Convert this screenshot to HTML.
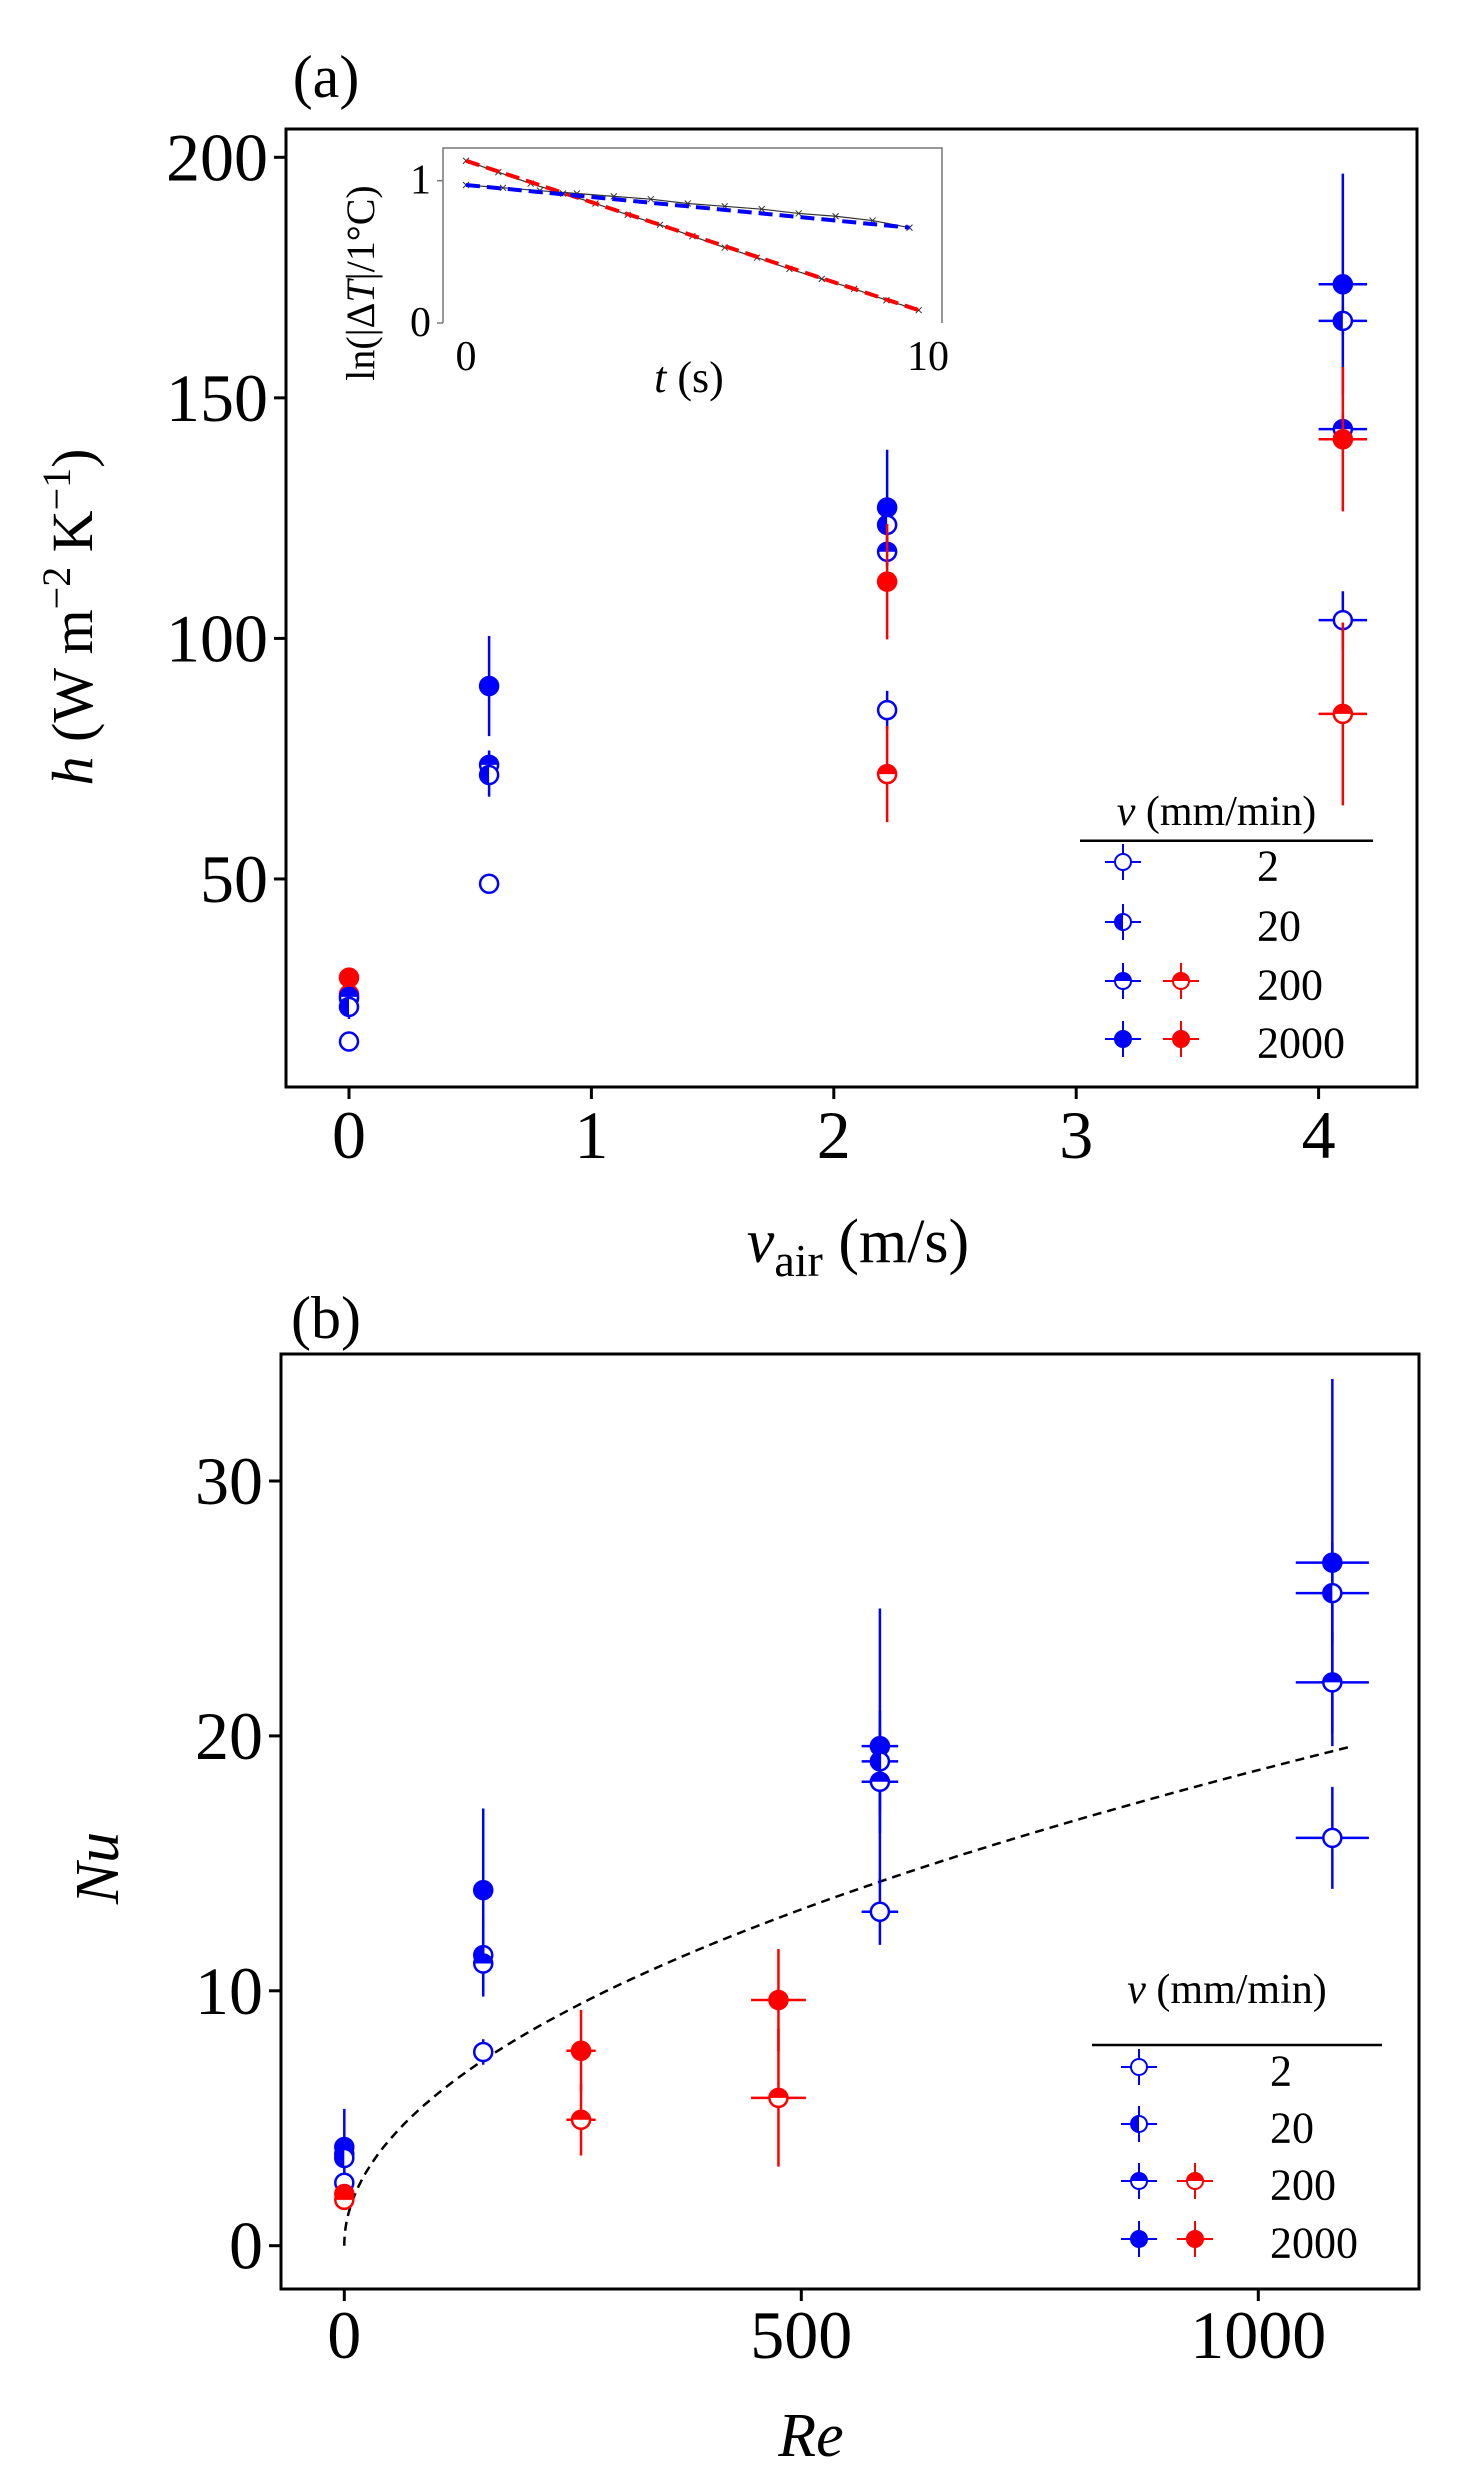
<!DOCTYPE html>
<html><head><meta charset="utf-8"><title>h and Nu vs air velocity and Re</title>
<style>
html,body{margin:0;padding:0;background:#fff;}
svg{display:block;font-family:"Liberation Serif",serif;}
</style></head>
<body>
<svg id="fig" width="1462" height="2491" viewBox="0 0 1462 2491" xmlns="http://www.w3.org/2000/svg">
<g id="panelA"></g>
<g id="panelB"></g>
</svg>
<script>
// ---------- Panel (a) data ----------
const aX     = [0, 0, 0, 0, 0, 0, 0.578, 0.578, 0.578, 0.578, 2.22, 2.22, 2.22, 2.22, 2.22, 2.22, 4.10, 4.10, 4.10, 4.10, 4.10, 4.10];
const aH     = [29.5, 26.0, 25.2, 25.5, 23.4, 16.2, 90.1, 73.7, 71.6, 49.0, 127.2, 123.6, 118.0, 111.8, 85.1, 71.8, 173.6, 166.0, 143.5, 141.4, 103.8, 84.3];
const aHErr  = [1, 1, 1, 1, 2.5, 1, 10.4, 3, 4.5, 1, 12, 3, 3, 12, 4, 10, 23, 3, 3, 15, 6, 19];
const aXErr  = [0.04, 0.04, 0.04, 0.04, 0.04, 0.04, 0.04, 0.04, 0.04, 0.04, 0.04, 0.04, 0.04, 0.04, 0.04, 0.04, 0.1, 0.1, 0.1, 0.1, 0.1, 0.1];
const aColor = ["red","red","blue","blue","blue","blue","blue","blue","blue","blue","blue","blue","blue","red","blue","red","blue","blue","blue","red","blue","red"];
const aType  = ["2000","200","2000","200","20","2","2000","200","20","2","2000","20","200","2000","2","200","2000","20","200","2000","2","200"];
const aXTicks = [0, 1, 2, 3, 4];
const aYTicks = [50, 100, 150, 200];
// inset data
const insRedT = [0,0.7,1.4,2.1,2.8,3.5,4.2,4.9,5.6,6.3,7.0,7.7,8.4,9.1,9.8];
const insRedV = [1.14,1.06,0.98,0.91,0.84,0.76,0.69,0.61,0.53,0.46,0.38,0.31,0.24,0.16,0.09];
const insBlueT = [0,0.8,1.6,2.4,3.2,4.0,4.8,5.6,6.4,7.2,8.0,8.8,9.6];
const insBlueV = [0.97,0.95,0.93,0.91,0.89,0.87,0.84,0.82,0.80,0.77,0.75,0.72,0.67];
const insXTicks = [0, 10];
const insYTicks = [0, 1];
// ---------- Panel (b) data ----------
const bRe    = [0, 0, 0, 0, 0, 0, 152, 152, 152, 152, 259, 259, 475, 475, 586, 586, 586, 586, 1081, 1081, 1081, 1081];
const bNu    = [3.87, 3.6, 3.44, 2.47, 2.03, 1.8, 13.95, 11.4, 11.07, 7.6, 7.65, 4.94, 9.64, 5.8, 19.6, 19.0, 18.2, 13.1, 26.8, 25.6, 22.1, 16.0];
const bNuErr = [1.5, 0.3, 0.3, 0.3, 0.3, 0.3, 3.2, 1.5, 1.3, 0.5, 1.6, 1.4, 2.0, 2.7, 5.4, 2, 2, 1.3, 7.2, 2, 2, 2];
const bReErr = [5, 5, 5, 5, 5, 5, 10, 10, 10, 10, 16, 16, 30, 30, 20, 20, 20, 20, 40, 40, 40, 40];
const bColor = ["blue","blue","blue","blue","red","red","blue","blue","blue","blue","red","red","red","red","blue","blue","blue","blue","blue","blue","blue","blue"];
const bType  = ["2000","200","20","2","2000","200","2000","20","200","2","2000","200","2000","200","2000","20","200","2","2000","20","200","2"];
const bXTicks = [0, 500, 1000];
const bYTicks = [0, 10, 20, 30];
const fitCoef = 0.59, fitExp = 0.5, fitReMax = 1100;
const legendLabels = ["2", "20", "200", "2000"];

const NS = "http://www.w3.org/2000/svg";
function mk(tag, attrs, parent){ const e=document.createElementNS(NS,tag); for(const k in attrs) e.setAttribute(k,attrs[k]); if(parent) parent.appendChild(e); return e; }
function txt(parent, x, y, s, size, anchor, extra){ const t=mk("text",Object.assign({x:x,y:y,"font-size":size,"text-anchor":anchor||"middle","dominant-baseline":"central",fill:"#000"},extra||{}),parent); t.textContent=s; return t; }

function marker(g, cx, cy, r, col, type, sw){
  if(type==="2"){ mk("circle",{cx:cx,cy:cy,r:r,fill:"#fff",stroke:col,"stroke-width":sw},g); }
  else if(type==="2000"){ mk("circle",{cx:cx,cy:cy,r:r,fill:col,stroke:col,"stroke-width":sw},g); }
  else if(type==="20"){ mk("circle",{cx:cx,cy:cy,r:r,fill:"#fff",stroke:col,"stroke-width":sw},g);
    mk("path",{d:`M${cx},${cy-r} A${r},${r} 0 0 0 ${cx},${cy+r} Z`,fill:col},g); }
  else { mk("circle",{cx:cx,cy:cy,r:r,fill:"#fff",stroke:col,"stroke-width":sw},g);
    mk("path",{d:`M${cx-r},${cy} A${r},${r} 0 0 1 ${cx+r},${cy} Z`,fill:col},g); }
}

// ================= PANEL A =================
(function(){
  const g=document.getElementById("panelA");
  const L=286,T=129,R=1417,B=1087;
  const xs=v=>349+v*242.4, ys=v=>157.3+(200-v)*4.811;
  const lab=txt(g,326,77,"(a)",60);
  
  
  const fr=mk("rect",{x:L,y:T,width:R-L,height:B-T,fill:"none",stroke:"#000","stroke-width":3},g);
  
  
  aXTicks.forEach(v=>{
    mk("line",{x1:xs(v),x2:xs(v),y1:B,y2:B+12,stroke:"#000","stroke-width":3},g);
    const t=txt(g,xs(v),1135,String(v),68);
    
    
  });
  aYTicks.forEach(v=>{
    mk("line",{x1:L-12,x2:L,y1:ys(v),y2:ys(v),stroke:"#000","stroke-width":3},g);
    const t=txt(g,L-18,ys(v),String(v),68,"end");
    
    
  });
  const xt=mk("text",{x:858,y:1262,"font-size":62,"text-anchor":"middle"},g);
  xt.innerHTML='<tspan font-style="italic">v</tspan><tspan font-size="46" dy="14">air</tspan><tspan dy="-14"> (m/s)</tspan>';
  
  
  const yt=mk("text",{x:0,y:0,"font-size":58,"text-anchor":"middle",transform:"translate(92,617) rotate(-90)"},g);
  yt.innerHTML='<tspan font-style="italic">h</tspan> (W m<tspan font-size="40" dy="-22">−2</tspan><tspan dy="22"> K</tspan><tspan font-size="40" dy="-22">−1</tspan><tspan dy="22">)</tspan>';
  
  
  // points
  aX.forEach((x,i)=>{
    const pg=mk("g",{},g);
    
    
    const c=aColor[i], px=xs(x), py=ys(aH[i]);
    mk("line",{x1:px,x2:px,y1:ys(aH[i]+aHErr[i]),y2:ys(aH[i]-aHErr[i]),stroke:c,"stroke-width":2.5},pg);
    mk("line",{x1:xs(x-aXErr[i]),x2:xs(x+aXErr[i]),y1:py,y2:py,stroke:c,"stroke-width":2.5},pg);
    marker(pg,px,py,9,c,aType[i],2.5);
  });
  // inset
  const ig=mk("g",{},g);
  
  
  const iL=443,iT=148,iR=942,iB=323;
  const ix=t=>466+t*46.2, iy=v=>323-v*142.3;
  mk("path",{d:`M${iL},${iB} V${iT} H${iR} V${iB}`,fill:"none",stroke:"#777","stroke-width":1.5},ig);
  insYTicks.forEach(v=>{ mk("line",{x1:iL-6,x2:iL,y1:iy(v),y2:iy(v),stroke:"#777","stroke-width":1.5},ig);
    const t=txt(ig,iL-12,iy(v),String(v),42,"end");   });
  insXTicks.forEach(v=>{ const t=txt(ig,ix(v),357,String(v),42);   });
  const ixl=mk("text",{x:689,y:392,"font-size":44,"text-anchor":"middle"},ig);
  ixl.innerHTML='<tspan font-style="italic">t</tspan> (s)';
  
  
  const iyl=mk("text",{x:0,y:0,"font-size":40,"text-anchor":"middle",transform:"translate(374,283) rotate(-90)"},ig);
  iyl.innerHTML='ln(|Δ<tspan font-style="italic">T</tspan>|/1°C)';
  
  
  [[insRedT,insRedV,"red"],[insBlueT,insBlueV,"blue"]].forEach(([T_,V_,c])=>{
    const dd=T_.map((t,i)=>(i?"L":"M")+ix(t)+","+iy(V_[i])).join(" ");
    const dl=mk("path",{d:dd,fill:"none",stroke:"#333","stroke-width":1.2},ig);
    
    
    T_.forEach((t,i)=>{ const X=ix(t),Y=iy(V_[i]); mk("path",{d:`M${X-3},${Y-3}L${X+3},${Y+3}M${X-3},${Y+3}L${X+3},${Y-3}`,stroke:"#333","stroke-width":1},ig); });
    const n=T_.length-1;
    const fl=mk("line",{x1:ix(T_[0]),y1:iy(V_[0]),x2:ix(T_[n]),y2:iy(V_[n]),stroke:c,"stroke-width":4,"stroke-dasharray":"14 7"},ig);
    
    
  });
  drawLegend(g,1080,1373,825,840.7,[862,922,981,1039],1123,1181,1257);
})();

function drawLegend(g,x0,x1,ty,ly,rows,bx,rx,lx){
  const lg=mk("g",{},g);
  
  
  const tt=mk("text",{x:(x0+x1)/2-10,y:ty,"font-size":42,"text-anchor":"middle"},lg);
  tt.innerHTML='<tspan font-style="italic">v</tspan> (mm/min)';
  
  
  mk("line",{x1:x0,x2:x1,y1:ly,y2:ly,stroke:"#000","stroke-width":2.5},lg);
  legendLabels.forEach((lab,i)=>{
    const eg=mk("g",{},lg);
    
    
    const cols = i>=2 ? [["blue",bx],["red",rx]] : [["blue",bx]];
    cols.forEach(([c,x])=>{
      mk("line",{x1:x-18,x2:x+18,y1:rows[i],y2:rows[i],stroke:c,"stroke-width":2},eg);
      mk("line",{x1:x,x2:x,y1:rows[i]-18,y2:rows[i]+18,stroke:c,"stroke-width":2},eg);
      marker(eg,x,rows[i],8,c,lab,2);
    });
    txt(eg,lx,rows[i]+4,lab,44,"start");
  });
}

// ================= PANEL B =================
(function(){
  const g=document.getElementById("panelB");
  const L=281,T=1354,R=1419,B=2289;
  const xs=v=>344.3+v*0.914, ys=v=>2245.7-v*25.49;
  const lab=txt(g,326,1318,"(b)",60);
  
  
  const fr=mk("rect",{x:L,y:T,width:R-L,height:B-T,fill:"none",stroke:"#000","stroke-width":3},g);
  
  
  bXTicks.forEach(v=>{
    mk("line",{x1:xs(v),x2:xs(v),y1:B,y2:B+12,stroke:"#000","stroke-width":3},g);
    const t=txt(g,xs(v),2335,String(v),68);
    
    
  });
  bYTicks.forEach(v=>{
    mk("line",{x1:L-12,x2:L,y1:ys(v),y2:ys(v),stroke:"#000","stroke-width":3},g);
    const t=txt(g,L-18,ys(v),String(v),68,"end");
    
    
  });
  const xt=txt(g,811,2436,"Re",62,"middle",{"font-style":"italic"});
  
  
  const yt=mk("text",{x:0,y:0,"font-size":62,"text-anchor":"middle","font-style":"italic",transform:"translate(118,1868) rotate(-90)"},g);
  yt.textContent="Nu";
  
  
  // fit curve
  let d="";
  for(let k=0;k<=200;k++){ const re=fitReMax*Math.pow(k/200,2); d+=(k?"L":"M")+xs(re).toFixed(1)+","+ys(fitCoef*Math.pow(re,fitExp)).toFixed(1)+" "; }
  const fc=mk("path",{d:d,fill:"none",stroke:"#000","stroke-width":2.5,"stroke-dasharray":"9 6"},g);
  
  
  bRe.forEach((x,i)=>{
    const pg=mk("g",{},g);
    
    
    const c=bColor[i], px=xs(x), py=ys(bNu[i]);
    mk("line",{x1:px,x2:px,y1:ys(bNu[i]+bNuErr[i]),y2:ys(bNu[i]-bNuErr[i]),stroke:c,"stroke-width":2.5},pg);
    mk("line",{x1:xs(x-bReErr[i]),x2:xs(x+bReErr[i]),y1:py,y2:py,stroke:c,"stroke-width":2.5},pg);
    marker(pg,px,py,9,c,bType[i],2.5);
  });
  drawLegend(g,1092,1382,2003,2045,[2067,2124,2181,2239],1139,1195,1270);
})();
</script>
</body></html>
